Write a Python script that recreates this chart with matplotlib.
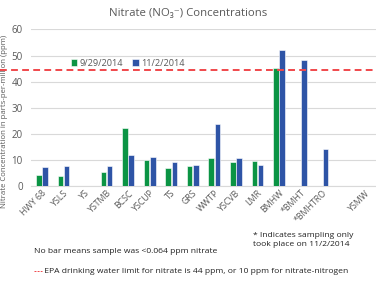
import matplotlib
matplotlib.use("Agg")
import matplotlib.pyplot as plt
import numpy as np
from matplotlib.transforms import blended_transform_factory
from matplotlib.lines import Line2D

categories = ["HWY 68", "YSLS", "YS", "YSTMB", "BCSC", "YSCUP", "TS", "GRS", "WWTP",
              "YSCVB", "LMR", "BMHW", "*BMHT", "*BMHTRO", "", "YSMW"]
sep = [4.0, 3.6, 0, 5.3, 22.3, 10.0, 6.8, 7.4, 10.7, 9.2, 9.5, 45.3, 0, 0, 0, 0]
nov = [7.2, 7.7, 0, 7.4, 11.9, 11.0, 9.2, 8.1, 23.8, 10.7, 8.1, 52.2, 48.1, 14.0, 0, 0]
epa_limit = 44.5
series_names = ["9/29/2014", "11/2/2014"]

green = "#0B9444"
blue = "#2E54A6"
red = "#F0474B"
gray_txt = "#595959"

plt.rcParams['font.family'] = ['Open Sans', 'DejaVu Sans']

fig = plt.figure(figsize=(3.76, 2.86), dpi=100)
ax = fig.add_axes([0.0824, 0.3507, 0.9176, 0.5462])

x = np.arange(len(categories))
w = 0.26
ax.bar(x - 0.14, sep, width=w, color=green, edgecolor="white", linewidth=0.4, zorder=3, label=series_names[0])
ax.bar(x + 0.15, nov, width=w, color=blue, edgecolor="white", linewidth=0.4, zorder=3, label=series_names[1])

ax.set_xlim(-0.5, len(categories) - 0.5)
ax.set_ylim(0, 60)
ax.set_yticks(range(0, 61, 10))
ax.yaxis.grid(True, color="#D9D9D9", linewidth=0.8, zorder=0)
for s in ["top", "right", "left"]:
    ax.spines[s].set_visible(False)
ax.spines["bottom"].set_color("#D9D9D9")
ax.tick_params(axis="y", length=0, labelsize=7, labelcolor=gray_txt, pad=6)
ax.tick_params(axis="x", length=0, labelsize=6.3, labelcolor=gray_txt, pad=2)
ax.set_xticks(x)
ax.set_xticklabels(categories, rotation=45, ha="right", rotation_mode="anchor")

ax.set_ylabel("Nitrate Concentration in parts-per-million (ppm)", fontsize=5.6, color=gray_txt)
ax.yaxis.set_label_coords(-0.066, 0.41)

trans = blended_transform_factory(fig.transFigure, ax.transData)
ax.plot([0, 1], [epa_limit, epa_limit], transform=trans, color=red, linestyle=(0, (3.5, 2.2)),
        linewidth=1.4, clip_on=False, zorder=4)

fig.text(0.5, 0.952, "Nitrate (NO\u2083\u207b) Concentrations",
         ha="center", va="center", fontsize=8.2, color=gray_txt)

leg = ax.legend(loc="center left", bbox_to_anchor=(0.115, 0.785), ncol=2, frameon=False,
                fontsize=6.6, handlelength=0.7, handleheight=0.7, handletextpad=0.3,
                columnspacing=1.0, labelcolor=gray_txt, borderaxespad=0, borderpad=0)

fig.text(0.672, 0.16, "* Indicates sampling only\ntook place on 11/2/2014", fontsize=6.1,
         color="#222222", va="center", ha="left", linespacing=1.45)
fig.text(0.09, 0.122, "No bar means sample was <0.064 ppm nitrate", fontsize=6.1,
         color="#222222", va="center", ha="left")
fig.add_artist(Line2D([0.091, 0.113], [0.052, 0.052], transform=fig.transFigure,
                      color=red, linewidth=0.7, linestyle=(0, (2.0, 1.2))))
fig.text(0.113, 0.052, " EPA drinking water limit for nitrate is 44 ppm, or 10 ppm for nitrate-nitrogen",
         fontsize=6.1, color="#222222", va="center", ha="left")

fig.savefig("out.png", dpi=100)
